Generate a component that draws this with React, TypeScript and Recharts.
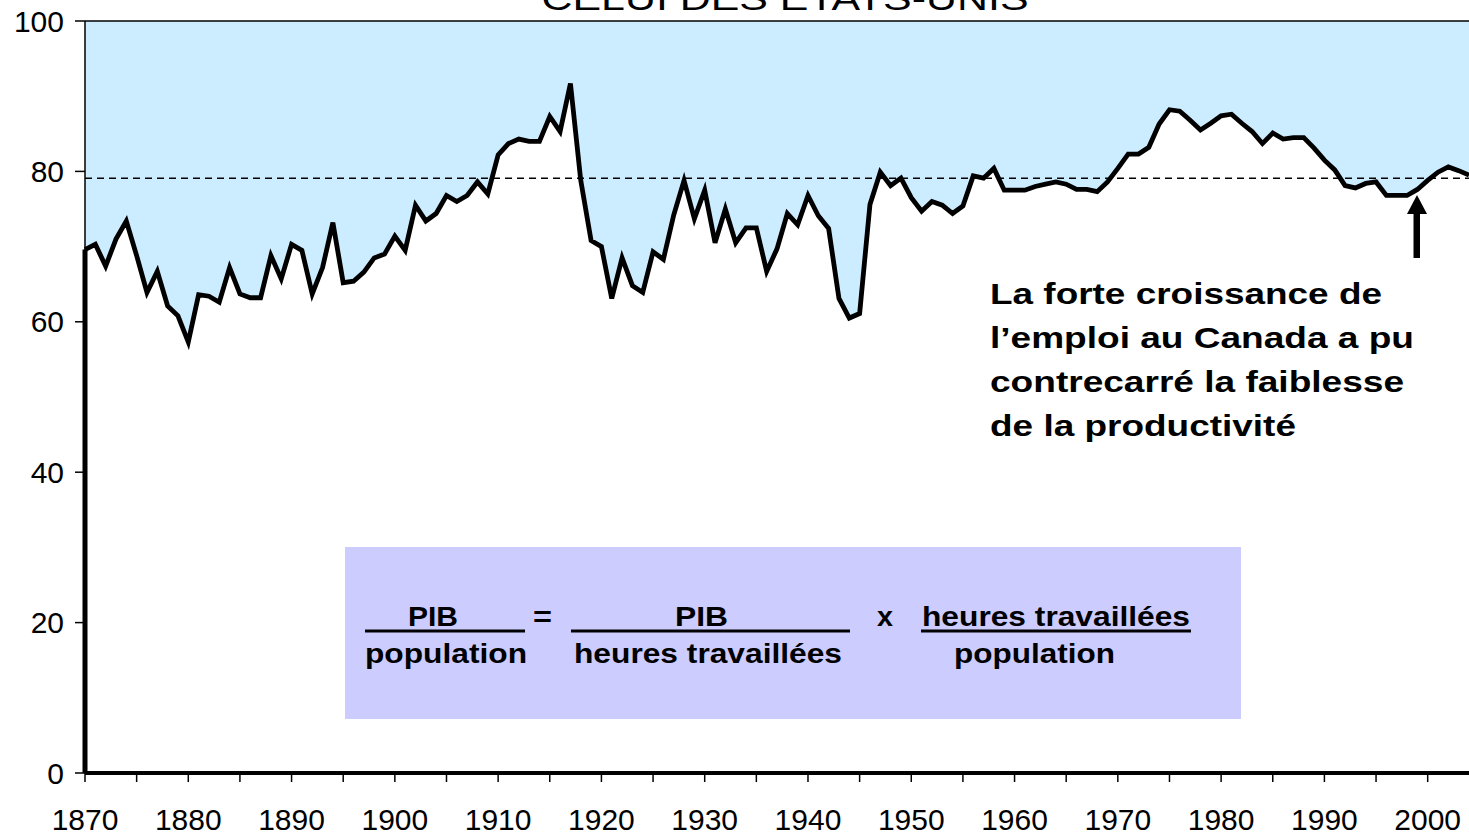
import React from "react";
import { ComposedChart, Area, Line, XAxis, YAxis, ReferenceLine } from "recharts";

// PIB par habitant du Canada en % de celui des États-Unis, 1870-2004
const START_YEAR = 1870;
const RATIO_1870S = [69.6, 70.3, 67.4, 71.0, 73.4, 68.8, 63.9, 66.7, 62.1, 60.8];
const RATIO_1880S = [57.3, 63.6, 63.4, 62.6, 67.2, 63.7, 63.2, 63.2, 68.8, 65.7];
const RATIO_1890S = [70.3, 69.5, 63.7, 67.2, 73.2, 65.2, 65.4, 66.6, 68.5, 69.0];
const RATIO_1900S = [71.4, 69.5, 75.5, 73.4, 74.4, 76.8, 76.0, 76.8, 78.6, 77.0];
const RATIO_1910S = [82.2, 83.7, 84.3, 84.0, 84.0, 87.3, 85.3, 91.7, 78.8, 70.8];
const RATIO_1920S = [70.0, 63.1, 68.5, 64.8, 63.9, 69.3, 68.3, 74.2, 78.8, 73.7];
const RATIO_1930S = [77.5, 70.5, 75.0, 70.5, 72.5, 72.5, 66.7, 69.7, 74.4, 72.9];
const RATIO_1940S = [76.8, 74.1, 72.4, 63.1, 60.5, 61.1, 75.6, 79.9, 78.1, 79.1];
const RATIO_1950S = [76.5, 74.7, 76.0, 75.5, 74.4, 75.4, 79.4, 79.1, 80.4, 77.5];
const RATIO_1960S = [77.5, 77.5, 78.0, 78.3, 78.6, 78.3, 77.6, 77.6, 77.3, 78.6];
const RATIO_1970S = [80.4, 82.3, 82.3, 83.2, 86.3, 88.2, 88.0, 86.8, 85.5, 86.4];
const RATIO_1980S = [87.4, 87.6, 86.4, 85.3, 83.7, 85.1, 84.3, 84.5, 84.5, 83.1];
const RATIO_1990S = [81.5, 80.2, 78.1, 77.8, 78.4, 78.6, 76.8, 76.8, 76.8, 77.6];
const RATIO_2000S = [78.8, 79.9, 80.6, 80.1, 79.5];

const RATIO = [
  ...RATIO_1870S, ...RATIO_1880S, ...RATIO_1890S, ...RATIO_1900S, ...RATIO_1910S,
  ...RATIO_1920S, ...RATIO_1930S, ...RATIO_1940S, ...RATIO_1950S, ...RATIO_1960S,
  ...RATIO_1970S, ...RATIO_1980S, ...RATIO_1990S, ...RATIO_2000S,
];

const AVERAGE = 79.1;
const X_TICKS = [
  1870, 1875, 1880, 1885, 1890, 1895, 1900, 1905, 1910, 1915, 1920, 1925, 1930, 1935,
  1940, 1945, 1950, 1955, 1960, 1965, 1970, 1975, 1980, 1985, 1990, 1995, 2000,
];
const Y_TICKS = [0, 20, 40, 60, 80, 100];

const TITLE = "CELUI DES ÉTATS-UNIS";
const NOTE_LINES = [
  "La forte croissance de",
  "l’emploi au Canada a pu",
  "contrecarré la faiblesse",
  "de la productivité",
];

const data = RATIO.map((v, i) => ({ year: START_YEAR + i, v }));

const FONT = "'Liberation Sans', Arial, Helvetica, sans-serif";
const W = 1469;
const H = 835;

export default function App() {
  const tickStyle = { fill: "#000", fontSize: 30, fontFamily: FONT };
  const noteWidths = [392, 424, 414, 306];
  const bold = { fontFamily: FONT, fontWeight: 700, fill: "#000" };

  return (
    <div style={{ position: "absolute", left: 0, top: 0, width: W, height: H, background: "#fff" }}>
      <ComposedChart
        width={W}
        height={H}
        data={data}
        margin={{ top: 21, right: 0, bottom: 0, left: 0 }}
      >
        <XAxis
          dataKey="year"
          type="number"
          domain={[START_YEAR, START_YEAR + RATIO.length - 1]}
          ticks={X_TICKS}
          interval={0}
          height={62}
          tickSize={9}
          tickMargin={27}
          tick={tickStyle}
          tickFormatter={(y: number) => (y % 10 === 0 ? String(y) : "")}
          axisLine={{ stroke: "#000", strokeWidth: 4 }}
          tickLine={{ stroke: "#000", strokeWidth: 1.5 }}
        />
        <YAxis
          type="number"
          domain={[0, 100]}
          ticks={Y_TICKS}
          width={85}
          tickSize={10}
          tickMargin={11}
          tick={tickStyle}
          axisLine={{ stroke: "#000", strokeWidth: 1.5 }}
          tickLine={{ stroke: "#000", strokeWidth: 1.5 }}
        />
        <Area
          type="linear"
          dataKey="v"
          baseValue={100}
          fill="#CCECFF"
          fillOpacity={1}
          stroke="none"
          isAnimationActive={false}
        />
        <ReferenceLine y={100} stroke="#000" strokeWidth={1.5} />
        <ReferenceLine y={AVERAGE} stroke="#000" strokeWidth={1.5} strokeDasharray="7 5" />
        <ReferenceLine
          segment={[{ x: START_YEAR, y: 0 }, { x: START_YEAR, y: RATIO[0] }]}
          stroke="#000"
          strokeWidth={5}
        />
        <Line
          type="linear"
          dataKey="v"
          stroke="#000"
          strokeWidth={4.8}
          dot={false}
          isAnimationActive={false}
        />
      </ComposedChart>

      <svg
        width={W}
        height={H}
        style={{ position: "absolute", left: 0, top: 0, pointerEvents: "none" }}
      >
        <text
          x={785}
          y={10}
          textAnchor="middle"
          fontSize={34}
          fontFamily={FONT}
          textLength={487}
          lengthAdjust="spacingAndGlyphs"
        >
          {TITLE}
        </text>

        {NOTE_LINES.map((line, i) => (
          <text
            key={line}
            x={990}
            y={304 + i * 44}
            fontSize={30}
            textLength={noteWidths[i]}
            lengthAdjust="spacingAndGlyphs"
            {...bold}
          >
            {line}
          </text>
        ))}

        {/* flèche */}
        <rect x={1413.5} y={211} width={6.5} height={47} fill="#000" />
        <polygon points="1407,214 1427,214 1417,195" fill="#000" />

        {/* encadré */}
        <rect x={345} y={547} width={896} height={172} fill="#CCCCFF" />
        <g fontSize={28} {...bold}>
          <text x={408} y={626} textLength={50} lengthAdjust="spacingAndGlyphs">PIB</text>
          <text x={533} y={626} textLength={19} lengthAdjust="spacingAndGlyphs">=</text>
          <text x={675} y={626} textLength={53} lengthAdjust="spacingAndGlyphs">PIB</text>
          <text x={877} y={626} textLength={16} lengthAdjust="spacingAndGlyphs">x</text>
          <text x={922} y={626} textLength={268} lengthAdjust="spacingAndGlyphs">heures travaillées</text>
          <text x={365} y={663} textLength={162} lengthAdjust="spacingAndGlyphs">population</text>
          <text x={574} y={663} textLength={268} lengthAdjust="spacingAndGlyphs">heures travaillées</text>
          <text x={954} y={663} textLength={161} lengthAdjust="spacingAndGlyphs">population</text>
        </g>
        <line x1={365} x2={525} y1={631} y2={631} stroke="#000" strokeWidth={3} />
        <line x1={571} x2={850} y1={631} y2={631} stroke="#000" strokeWidth={3} />
        <line x1={921} x2={1191} y1={631} y2={631} stroke="#000" strokeWidth={3} />
      </svg>
    </div>
  );
}
